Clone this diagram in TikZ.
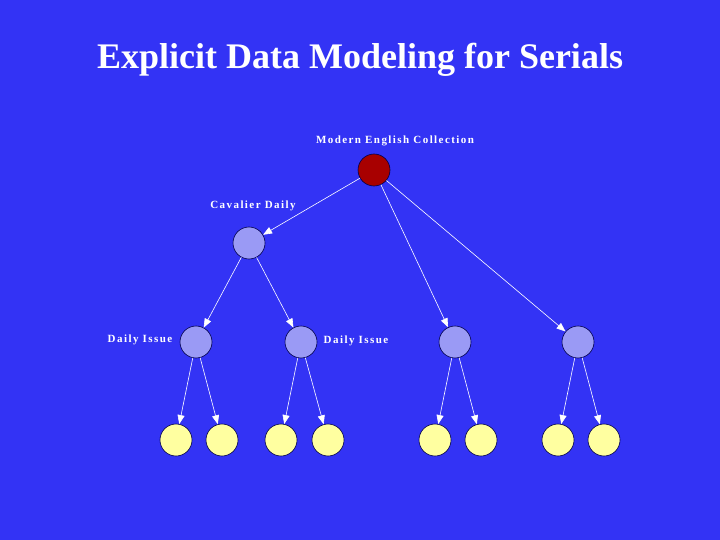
\documentclass[tikz,border=0pt]{standalone}
\usepackage{fontspec}
\setmainfont{Liberation Serif}
\newfontfamily\lblfont[LetterSpace=13]{Liberation Serif}
\usetikzlibrary{arrows.meta}
\definecolor{bg}{HTML}{3333F5}
\definecolor{rootc}{HTML}{A80000}
\definecolor{midc}{HTML}{9A9AF5}
\definecolor{leafc}{HTML}{FFFFA0}
\begin{document}
\begin{tikzpicture}[x=1pt,y=-1pt,
  dot/.style={circle,draw=black!70!blue,line width=0.6pt,minimum size=32pt,inner sep=0pt},
  lbl/.style={text=white,font=\lblfont\bfseries\fontsize{11}{13}\selectfont},
  arr/.style={draw=white,line width=0.6pt,-{Triangle[width=7pt,length=9pt,fill=white]}}]
\fill[bg] (0,0) rectangle (720,540);
\useasboundingbox (0,0) rectangle (720,540);
\node[text=white,font=\bfseries\fontsize{36}{40}\selectfont] (title) at (360,60) {Explicit Data Modeling for Serials};
\node[dot,fill=rootc] (r) at (374,170) {};
\node[dot,fill=midc] (c) at (249,243) {};
\node[dot,fill=midc] (a) at (196,342) {};
\node[dot,fill=midc] (b) at (301,342) {};
\node[dot,fill=midc] (d) at (455,342) {};
\node[dot,fill=midc] (e) at (578,342) {};
\foreach \n/\x in {l1/176,l2/222,l3/281,l4/328,l5/435,l6/481,l7/558,l8/604}
  \node[dot,fill=leafc] (\n) at (\x,440) {};
\node[lbl] (tr) at (395,141) {Modern English Collection};
\node[lbl] (tc) at (253,206) {Cavalier Daily};
\node[lbl] (ta) at (140,340) {Daily Issue};
\node[lbl] (tb) at (356,341) {Daily Issue};
\draw[arr] (r) -- (c);
\draw[arr] (r) -- (d);
\draw[arr] (r) -- (e);
\draw[arr] (c) -- (a);
\draw[arr] (c) -- (b);
\draw[arr] (a) -- (l1); \draw[arr] (a) -- (l2);
\draw[arr] (b) -- (l3); \draw[arr] (b) -- (l4);
\draw[arr] (d) -- (l5); \draw[arr] (d) -- (l6);
\draw[arr] (e) -- (l7); \draw[arr] (e) -- (l8);
\end{tikzpicture}
\end{document}
